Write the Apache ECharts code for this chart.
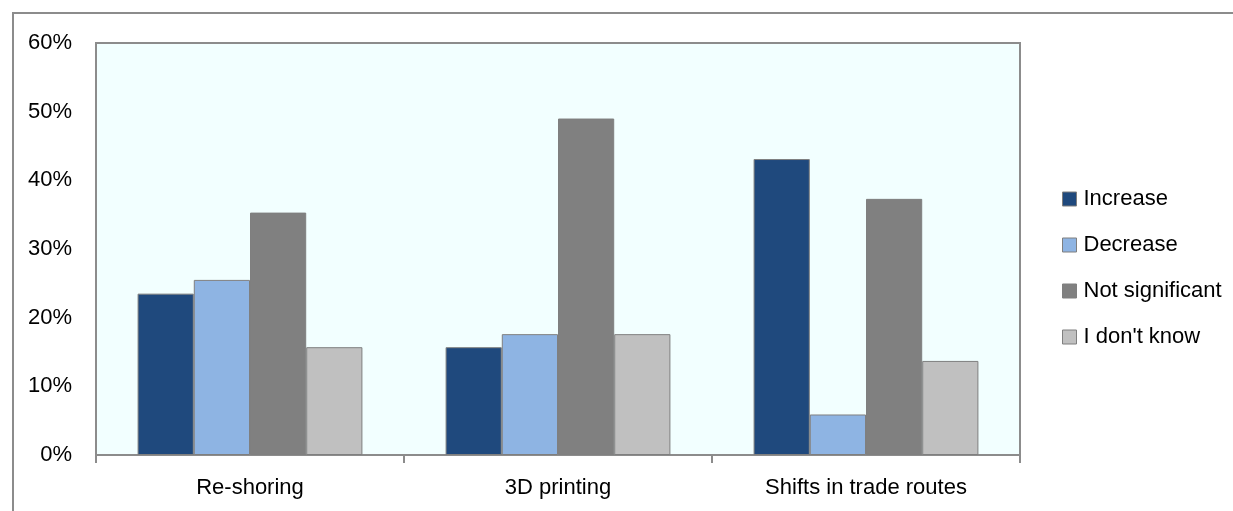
<!DOCTYPE html>
<html>
<head>
<meta charset="utf-8">
<style>
  html, body { margin: 0; padding: 0; background: #fff; }
  #chart { width: 1233px; height: 511px; }
</style>
<script src="https://cdn.jsdelivr.net/npm/echarts@6/dist/echarts.min.js"></script>
</head>
<body>
<div id="chart"></div>
<script>
// categories on the x axis
var categories = ['Re-shoring', '3D printing', 'Shifts in trade routes'];
// series names (legend)
var seriesNames = ['Increase', 'Decrease', 'Not significant', "I don't know"];
// values in percent, one array per series
var increase = [23.5, 15.7, 43.1];
var decrease = [25.5, 17.6, 5.9];
var notSignificant = [35.3, 49.0, 37.3];
var dontKnow = [15.7, 17.6, 13.7];
// y axis ticks
var yMin = 0, yMax = 60, yStep = 10;

var colors = ['#1F497D', '#8EB4E3', '#808080', '#C0C0C0'];
var seriesData = [increase, decrease, notSignificant, dontKnow];

var chart = echarts.init(document.getElementById('chart'), null, { renderer: 'canvas' });

var series = [];
for (var i = 0; i < seriesNames.length; i++) {
  series.push({
    name: seriesNames[i],
    type: 'bar',
    data: seriesData[i],
    barGap: '0%',
    barCategoryGap: '27%',
    itemStyle: {
      color: colors[i],
      borderColor: '#7f7f7f',
      borderWidth: 1
    }
  });
}

var font = '"Liberation Sans", Arial, sans-serif';
var fs = 22;

var option = {
  animation: false,
  textStyle: { fontFamily: font },
  // outer frame, only left and top edges are visible in the picture
  graphic: [{
    type: 'rect',
    shape: { x: 13, y: 13, width: 1400, height: 700 },
    style: { fill: 'none', stroke: '#8c8c8c', lineWidth: 2 },
    z: 0
  }],
  legend: {
    orient: 'vertical',
    left: 1062,
    top: 188,
    padding: 0,
    itemWidth: 14,
    itemHeight: 14,
    itemGap: 24,
    icon: 'rect',
    data: seriesNames,
    textStyle: { color: '#000', fontSize: fs, fontFamily: font, padding: [0, 0, 0, 2] },
    itemStyle: { borderColor: '#7f7f7f', borderWidth: 1 }
  },
  grid: {
    show: true,
    left: 96,
    right: 213,
    top: 43,
    bottom: 56,
    backgroundColor: '#F2FFFF',
    borderColor: '#8c8c8c',
    borderWidth: 2
  },
  xAxis: {
    type: 'category',
    data: categories,
    axisLine: { show: true, lineStyle: { color: '#8c8c8c', width: 2 } },
    axisTick: { show: true, length: 8, lineStyle: { color: '#8c8c8c', width: 2 } },
    axisLabel: { color: '#000', fontSize: fs, margin: 22, fontFamily: font }
  },
  yAxis: {
    type: 'value',
    min: yMin,
    max: yMax,
    interval: yStep,
    axisLine: { show: false },
    axisTick: { show: false },
    splitLine: { show: false },
    axisLabel: { color: '#000', fontSize: fs, margin: 24, fontFamily: font, formatter: '{value}%' }
  },
  series: series
};

chart.setOption(option);
</script>
</body>
</html>
